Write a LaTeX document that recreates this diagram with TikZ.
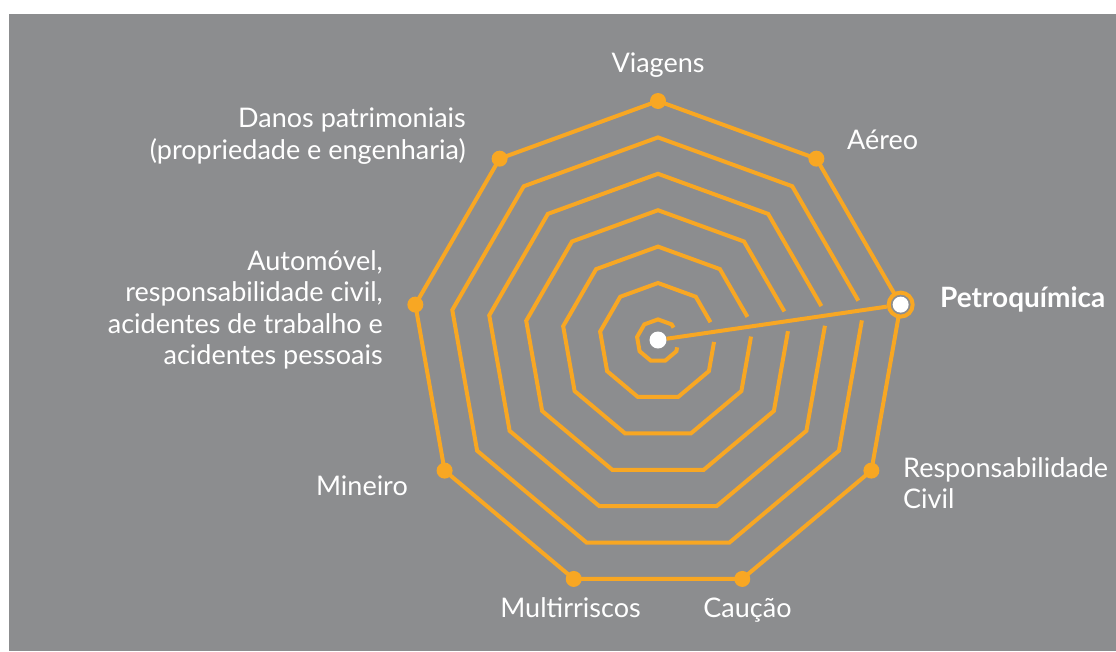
\documentclass[tikz,border=0pt]{standalone}
\usepackage{fontspec}
\setmainfont{Lato}
\usetikzlibrary{calc}
\definecolor{bg}{RGB}{140,141,143}
\definecolor{orng}{RGB}{248,167,35}
\begin{document}
\begin{tikzpicture}[x=1pt,y=-1pt,
  ring/.style={draw=orng, line width=4pt, line join=miter},
  spoke/.style={draw=orng, line width=4pt},
  vdot/.style={circle, fill=orng, inner sep=0pt, minimum size=16pt},
  lbl/.style={text=white, font=\fontsize{27}{31.5}\selectfont, inner sep=0pt},
]
\useasboundingbox (0,0) rectangle (1116,651);
\fill[bg] (9,14) rectangle (1116,651);
\coordinate (P0) at (658,340);
\foreach \a/\n in {90/v90,50/v50,10/v10,-30/vm30,-70/vm70,-110/vm110,-150/vm150,170/v170,130/v130} {
  \coordinate (\n) at ($(658,347.4)+({246.4*cos(\a)},{-246.4*sin(\a)})$);
}
% inner open rings
\foreach \s in {0.8477,0.6954,0.5431,0.3908,0.2385,0.0862} {
  \draw[ring] ($(P0)!\s!(v10)+(-5.38,-9.32)$) -- ($(P0)!\s!(v50)$) -- ($(P0)!\s!(v90)$)
    -- ($(P0)!\s!(v130)$) -- ($(P0)!\s!(v170)$) -- ($(P0)!\s!(vm150)$)
    -- ($(P0)!\s!(vm110)$) -- ($(P0)!\s!(vm70)$) -- ($(P0)!\s!(vm30)$)
    -- ($(P0)!\s!(v10)+(-1.83,10.37)$);
}
% outer ring
\draw[ring] (v90) -- (v50) -- (v10) -- (vm30) -- (vm70) -- (vm110) -- (vm150) -- (v170) -- (v130) -- cycle;
% vertex dots
\foreach \n in {v90,v50,vm30,vm70,vm110,vm150,v170,v130} {
  \node[vdot] (d\n) at (\n) {};
}
% centre and highlighted vertex
\node[circle, fill=white, inner sep=0pt, minimum size=17pt] (cdot) at (P0) {};
\node[circle, draw=orng, fill=bg, line width=4pt, inner sep=0pt, minimum size=24pt] (petro) at (v10) {};
\node[circle, fill=white, inner sep=0pt, minimum size=16pt] (pdot) at (v10) {};
\draw[spoke] (cdot) -- (petro);
% labels
\node[lbl, anchor=base] (lviag) at (658,72) {Viagens};
\node[lbl, anchor=base west] (laereo) at (847,149) {Aéreo};
\node[lbl, anchor=base west, font=\fontsize{28}{31.5}\selectfont\bfseries] (lpetro) at (940,307) {Petroquímica};
\node[lbl, anchor=north west, align=left] (lresp) at (903,457) {Responsabilidade\\Civil};
\node[lbl, anchor=base] (lcaucao) at (747.5,617) {Caução};
\node[lbl, anchor=base] (lmulti) at (570.5,617) {Multirriscos};
\node[lbl, anchor=base east] (lmin) at (408,495) {Mineiro};
\node[lbl, anchor=north east, align=right] (lauto) at (383,250) {Automóvel,\\responsabilidade civil,\\acidentes de trabalho e\\acidentes pessoais};
\node[lbl, anchor=north east, align=right] (ldanos) at (466,108) {Danos patrimoniais\\(propriedade e engenharia)};
\end{tikzpicture}
\end{document}
